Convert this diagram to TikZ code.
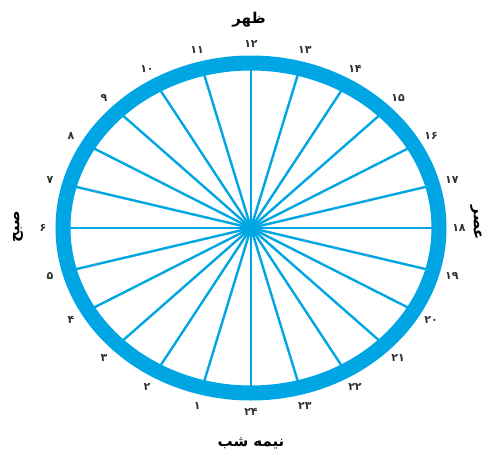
\documentclass[tikz,border=0pt]{standalone}
\usepackage{fontspec}
\newfontfamily\arabicfont[Script=Arabic]{DejaVu Sans}
\TeXXeTstate=1
\definecolor{ringblue}{RGB}{0,166,228}
\definecolor{numgray}{RGB}{50,50,50}
\begin{document}
\begin{tikzpicture}[x=1pt,y=-1pt,
  spoke/.style={draw=ringblue,line width=2.4pt},
  ringline/.style={draw=ringblue,line width=15pt},
  num/.style={font=\arabicfont\bfseries\fontsize{11}{13}\selectfont,text=numgray,inner sep=0pt},
  word/.style={font=\arabicfont\bfseries\fontsize{15}{17}\selectfont,text=black,inner sep=0pt}]
\useasboundingbox (0,0) rectangle (485,453);
\coordinate (c) at (251,228);
\foreach \h/\t in {1/۱,2/۲,3/۳,4/۴,5/۵,6/۶,7/۷,8/۸,9/۹,10/۱۰,11/۱۱,12/۱۲,13/۱۳,14/۱۴,15/۱۵,16/۱۶,17/۱۷,18/۱۸,19/۱۹,20/۲۰,21/۲۱,22/۲۲,23/۲۳,24/۲۴}{
  \pgfmathsetmacro\ang{90+(12-\h)*15}
  \path (c) ++ ({188*cos(\ang)},{-165*sin(\ang)}) coordinate (e\h);
  \draw[spoke] (c) -- (e\h);
  \path (c) ++ ({208*cos(\ang)},{-184*sin(\ang)}) node[num] (n\h) {\t};
}
\fill[ringblue] (c) circle (3pt);
\draw[ringline] (c) ellipse [x radius=188pt, y radius=165pt];
\node[word] (noon) at (249,20) {\beginR ظهر\endR};
\node[word] (midnight) at (251,443) {\beginR نیمه شب\endR};
\node[word,rotate=90] (morning) at (18,227) {\beginR صبح\endR};
\node[word,rotate=-90] (afternoon) at (476,223) {\beginR عصر\endR};
\end{tikzpicture}
\end{document}
